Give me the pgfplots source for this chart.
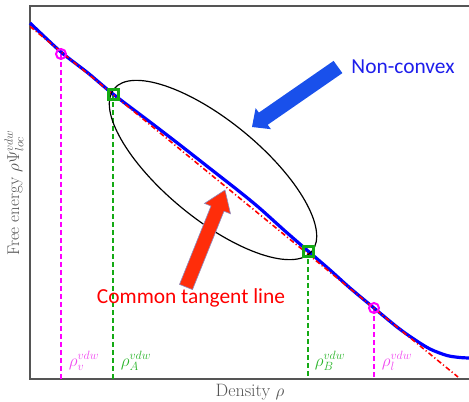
\documentclass[border=0pt]{standalone}
\usepackage{fontspec}
\newfontfamily\calibri{Carlito}
\usepackage{pgfplots}
\pgfplotsset{compat=1.18}
\usetikzlibrary{shapes.geometric}
\definecolor{mygreen}{RGB}{20,170,20}
\definecolor{mymag}{RGB}{255,0,255}
\definecolor{axgray}{RGB}{85,85,85}
\definecolor{arrblue}{RGB}{25,80,235}
\definecolor{arrred}{RGB}{255,45,10}
\definecolor{labmag}{RGB}{240,70,240}
\definecolor{labgreen}{RGB}{40,180,40}
\definecolor{txtblue}{RGB}{30,30,235}
\begin{document}
\begin{tikzpicture}
\clip (0,0) rectangle (469bp,402bp);
\begin{axis}[
  at={(30bp,23bp)}, anchor=south west,
  scale only axis, width=460bp, height=373bp,
  xmin=30, xmax=490, ymin=6, ymax=379, y dir=reverse,
  ticks=none, axis line style={axgray, line width=1.3bp},
  clip=false,
]
% vertical dashed guides
\addplot[mymag, line width=1.6bp, dash pattern=on 5bp off 3bp] coordinates {(61,54) (61,379)};
\addplot[mygreen, line width=1.6bp, dash pattern=on 5bp off 3bp] coordinates {(113,94) (113,379)};
\addplot[mygreen, line width=1.6bp, dash pattern=on 5bp off 3bp] coordinates {(308,251) (308,379)};
\addplot[mymag, line width=1.6bp, dash pattern=on 5bp off 3bp] coordinates {(374,308) (374,379)};
% free energy curve
\addplot[blue, line width=3.2bp, smooth, tension=0.5] coordinates {
(30,23) (61,52) (88,73) (113,94) (150,122) (180,145) (210,168.5) (240,192)
(260,208.5) (285,231) (308,251) (330,270) (350,288) (374,308) (397,327)
(413,338.5) (430,349) (447,355.5) (460,357.5) (469,358)};
% common tangent line
\addplot[red, line width=1.6bp, dash pattern=on 5bp off 2.5bp on 1.2bp off 2.5bp] coordinates {(30,26.4) (458,377)};
% markers
\addplot[only marks, mark=o, mark size=5bp, mymag, mark options={line width=2bp}] coordinates {(61,54) (374,308)};
\addplot[only marks, mark=square, mark size=5bp, mygreen, mark options={line width=3bp}] coordinates {(113,94) (308,251)};
% ellipse
\node[draw=black, line width=1.2bp, ellipse, inner sep=0pt, outer sep=0pt, minimum width=256bp, minimum height=98bp, rotate=-39.4] at (axis cs:213,170) {};
% blue arrow
\fill[arrblue] (axis cs:342.4,73.1) -- (axis cs:333.6,60.9) -- (axis cs:258.9,112.6) -- (axis cs:255.6,108.2)
  -- (axis cs:252,127) -- (axis cs:271,129.2) -- (axis cs:267.7,124.8) -- cycle;
% red arrow
\filldraw[fill=arrred, draw=blue!30!gray!70, line width=0.6bp] (axis cs:192.5,289.6) -- (axis cs:179.5,284.4) -- (axis cs:211,206) -- (axis cs:204.5,203.4)
  -- (axis cs:225,190) -- (axis cs:230.5,213.8) -- (axis cs:224,211.2) -- cycle;
% texts
\node[font=\calibri\fontsize{21.5}{25}\selectfont, text=txtblue] at (axis cs:403,67) {Non-convex};
\node[font=\calibri\fontsize{21.5}{25}\selectfont, text=red] at (axis cs:191,298) {Common tangent line};
\node[text=labmag, font=\fontsize{18}{20}\selectfont] at (axis cs:84,361) {$\rho_v^{vdw}$};
\node[text=labgreen, font=\fontsize{18}{20}\selectfont] at (axis cs:136,361) {$\rho_A^{vdw}$};
\node[text=labgreen, font=\fontsize{18}{20}\selectfont] at (axis cs:330,361) {$\rho_B^{vdw}$};
\node[text=labmag, font=\fontsize{18}{20}\selectfont] at (axis cs:397,361) {$\rho_l^{vdw}$};
\node[text=axgray, font=\fontsize{18}{20}\selectfont] at (axis cs:250,392) {Density $\rho$};
\node[text=axgray, rotate=90, font=\fontsize{17}{19}\selectfont] at (axis cs:14,193) {Free energy $\rho\Psi_{loc}^{vdw}$};
\end{axis}
\end{tikzpicture}
\end{document}
